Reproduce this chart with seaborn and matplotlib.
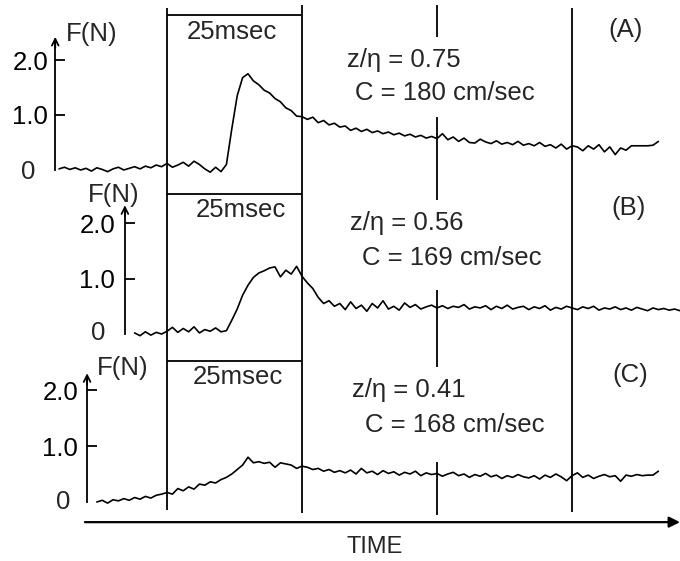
import numpy as np
import pandas as pd
import seaborn as sns
import matplotlib.pyplot as plt

t0_a = -20
force_a = [0.02, 0.05, 0.01, 0.04, 0.00, 0.03, -0.02, 0.04, 0.01, -0.03,
           0.02, 0.05, 0.00, 0.03, 0.06, 0.02, 0.07, 0.04, 0.09, 0.06,
           0.12, 0.05, 0.09, 0.14, 0.07, 0.16, 0.10, 0.02, -0.04, 0.05, -0.03,
           0.10, 0.75, 1.35, 1.68, 1.75, 1.62, 1.55, 1.45, 1.40, 1.30, 1.24, 1.13, 1.08, 0.98, 0.97,
           0.92, 0.96, 0.86, 0.90, 0.82, 0.85, 0.78,
           0.80, 0.72, 0.76, 0.70, 0.74, 0.68, 0.71, 0.66, 0.69, 0.64, 0.67, 0.62, 0.65, 0.60, 0.63, 0.58, 0.61, 0.57,
           0.66, 0.55, 0.60, 0.52, 0.58, 0.50, 0.49, 0.56, 0.51, 0.48, 0.53, 0.47, 0.50, 0.46, 0.52, 0.45,
           0.48, 0.44, 0.50, 0.43, 0.46, 0.40, 0.47, 0.38, 0.44,
           0.42, 0.35, 0.44, 0.38, 0.46, 0.33, 0.42, 0.28, 0.40, 0.36, 0.44, 0.44, 0.44, 0.44, 0.45, 0.52]

t0_b = -6
force_b = [0.02, -0.03, 0.04, -0.02, 0.03, 0.00, 0.05, 0.12, 0.03, 0.10, 0.04, 0.13, 0.02, 0.08, 0.05, 0.11, 0.04, 0.06,
           0.25, 0.45, 0.70, 0.88, 1.02, 1.10, 1.14, 1.19, 1.21, 1.03, 1.15, 1.08, 1.22, 1.04, 0.92, 0.82, 0.66, 0.55,
           0.60, 0.50, 0.55,
           0.44, 0.58, 0.46, 0.52, 0.41, 0.55, 0.47, 0.60, 0.45, 0.50,
           0.43, 0.56, 0.48, 0.53, 0.45, 0.49, 0.52, 0.47, 0.51, 0.46,
           0.50, 0.48, 0.53, 0.45, 0.49, 0.47, 0.51, 0.44, 0.50, 0.46,
           0.52, 0.45, 0.48, 0.50, 0.44, 0.49, 0.46, 0.51, 0.43, 0.48,
           0.45, 0.50, 0.47, 0.44, 0.49, 0.46, 0.50, 0.43, 0.47, 0.45,
           0.49, 0.44, 0.47, 0.43, 0.48, 0.45, 0.42, 0.47, 0.44, 0.46,
           0.43, 0.45, 0.42]

t0_c = -13
force_c = [0.00, 0.03, -0.02, 0.04, 0.02, 0.06, 0.03, 0.08, 0.05, 0.10, 0.07, 0.12, 0.14,
           0.17, 0.14, 0.24, 0.20, 0.27, 0.23, 0.32, 0.30, 0.36, 0.34, 0.40,
           0.44, 0.50, 0.58, 0.66, 0.80,
           0.70, 0.72, 0.69, 0.71, 0.62, 0.70, 0.68, 0.66, 0.60, 0.64, 0.62, 0.58, 0.60, 0.55, 0.58, 0.53, 0.56,
           0.52, 0.57, 0.50, 0.60, 0.52, 0.55, 0.49, 0.56, 0.51, 0.54,
           0.48, 0.53, 0.50, 0.55, 0.47, 0.52, 0.49, 0.51, 0.46, 0.50,
           0.53, 0.47, 0.50, 0.44, 0.49, 0.46, 0.51, 0.45, 0.48, 0.42,
           0.47, 0.44, 0.49, 0.45, 0.43, 0.47, 0.41, 0.48, 0.44, 0.50,
           0.45, 0.38, 0.47, 0.52, 0.44, 0.48, 0.42, 0.46, 0.49, 0.45,
           0.47, 0.37, 0.48, 0.46, 0.49, 0.47, 0.48, 0.48, 0.55]

depth_ratio = ['0.75', '0.56', '0.41']
celerity = ['180', '169', '168']
panel_names = ['(A)', '(B)', '(C)']
marker_times = [0, 25, 50, 75]
yticks = [1.0, 2.0]
ytick_labels = ['1.0', '2.0']

sns.set_theme(style='white')
plt.rcParams['font.family'] = ['Liberation Sans', 'DejaVu Sans']
FS = 18.5

fig = plt.figure(figsize=(6.8, 5.61), dpi=100)
XLIM = (-30.93, 95.0)

# layout of the three records (axes rect in figure fraction, ylim, ...)
panels = [
    dict(rect=[0, 0.6613, 1, 0.3387], ylim=(-0.364, 3.091), t_ax=-20.7, y_arrow=2.42, pad=5,
         fn=(-13.9, 2.47), zero=(-25.7, -0.03), bracket=2.82, msec=(12.0, 2.51),
         zpos=(33.3, 2.0), cpos=(34.8, 1.4), name=(85.0, 2.55),
         vl={0: [(-0.37, 2.945)], 25: [(-0.37, 3.0)], 50: [(-0.37, 0.96), (2.42, 3.0)], 75: [(-0.37, 2.945)]}),
    dict(rect=[0, 0.3939, 1, 0.2674], ylim=(-0.108, 2.595), t_ax=-7.8, y_arrow=2.32, pad=7,
         fn=(-9.8, 2.5), zero=(-12.8, 0.02), bracket=2.52, msec=(13.7, 2.23),
         zpos=(33.9, 2.0), cpos=(36.1, 1.37), name=(85.4, 2.27),
         vl={0: [(-0.11, 2.6)], 25: [(-0.11, 2.6)], 50: [(-0.11, 0.79), (2.41, 2.6)], 75: [(-0.11, 2.6)]}),
    dict(rect=[0, 0.0, 1, 0.3939], ylim=(-1.054, 2.893), t_ax=-14.8, y_arrow=2.30, pad=6.5,
         fn=(-8.3, 2.39), zero=(-19.3, 0.0), bracket=2.52, msec=(13.2, 2.23),
         zpos=(34.3, 2.0), cpos=(36.7, 1.375), name=(85.7, 2.27),
         vl={0: [(-0.14, 2.9)], 25: [(-0.2, 2.9)], 50: [(-0.23, 0.71), (2.41, 2.9)], 75: [(-0.18, 2.9)]}),
]
traces = [(t0_a, force_a), (t0_b, force_b), (t0_c, force_c)]

for i, p in enumerate(panels):
    ax = fig.add_axes(p['rect'])
    ax.patch.set_alpha(0)
    t0, vals = traces[i]
    df = pd.DataFrame({'time': t0 + np.arange(len(vals)), 'force': vals})
    sns.lineplot(data=df, x='time', y='force', ax=ax, color='black', linewidth=1.2)
    ax.set_xlim(*XLIM)
    ax.set_ylim(*p['ylim'])
    ax.set_xlabel('')
    ax.set_ylabel('')
    ax.set_xticks([])
    for s in ['top', 'right', 'bottom']:
        ax.spines[s].set_visible(False)
    ax.spines['left'].set_position(('data', p['t_ax']))
    ax.spines['left'].set_bounds(0, p['y_arrow'] - 0.05)
    ax.spines['left'].set_color('black')
    ax.spines['left'].set_linewidth(1.3)
    ax.set_yticks(yticks)
    ax.set_yticklabels(ytick_labels)
    ax.tick_params(axis='y', direction='in', length=7.5, width=1.3, pad=p['pad'],
                   labelsize=FS, colors='black', left=True)
    ax.annotate('', xy=(p['t_ax'], p['y_arrow']), xytext=(p['t_ax'], p['y_arrow'] - 0.2),
                arrowprops=dict(arrowstyle='->', lw=1.3, color='black', shrinkA=0, shrinkB=0))
    ax.text(p['zero'][0], p['zero'][1], '0', fontsize=FS, ha='center', va='center')
    ax.text(p['fn'][0], p['fn'][1], 'F(N)', fontsize=FS, ha='center', va='center')

    # timing lines and 25 msec bracket
    for tm in marker_times:
        for y0, y1 in p['vl'][tm]:
            ax.vlines(tm, y0, y1, color='black', lw=1.3)
    ax.hlines(p['bracket'], marker_times[0], marker_times[1], color='black', lw=1.3)
    ax.text(p['msec'][0], p['msec'][1], '25msec', fontsize=FS, ha='center', va='center')

    ax.text(p['zpos'][0], p['zpos'][1], 'z/\u03b7 = ' + depth_ratio[i], fontsize=FS, ha='left', va='center')
    ax.text(p['cpos'][0], p['cpos'][1], 'C = ' + celerity[i] + ' cm/sec', fontsize=FS, ha='left', va='center')
    ax.text(p['name'][0], p['name'][1], panel_names[i], fontsize=FS, ha='center', va='center')

    if i == 2:
        ax.annotate('', xy=(95.0, -0.36), xytext=(-15.2, -0.36),
                    arrowprops=dict(arrowstyle='-|>', lw=1.6, color='black',
                                    mutation_scale=16, shrinkA=0, shrinkB=0))
        ax.text(38.5, -0.80, 'TIME', fontsize=17, ha='center', va='center')

fig.savefig('out.png', dpi=100)
